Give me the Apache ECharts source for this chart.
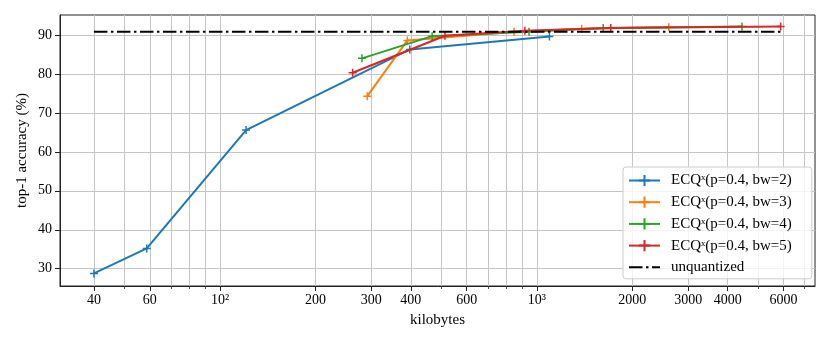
<!DOCTYPE html>
<html>
<head>
<meta charset="utf-8">
<script src="https://cdn.jsdelivr.net/npm/echarts@6/dist/echarts.min.js"></script>
<style>
html,body{margin:0;padding:0;background:#fff;}
#chart{width:830px;height:343px;}
</style>
</head>
<body>
<div id="chart"></div>
<script>
// ---- data (kilobytes, top-1 accuracy %) ----
const kbBw2 = [40, 58.7, 120.8, 397, 1095];
const accBw2 = [28.8, 35.2, 65.6, 86.3, 89.6];
const kbBw3 = [291.5, 390, 847, 1384, 2607];
const accBw3 = [74.3, 88.6, 90.8, 91.6, 92.0];
const kbBw4 = [280.5, 467, 944, 1618, 4437];
const accBw4 = [84.0, 89.7, 90.8, 91.8, 92.2];
const kbBw5 = [262, 512.7, 916, 1710, 5875];
const accBw5 = [80.3, 89.8, 91.1, 91.8, 92.2];
const kbUnq = [40, 5875];
const accUnq = [90.8, 90.8];

const seriesNames = ['ECQˣ(p=0.4, bw=2)', 'ECQˣ(p=0.4, bw=3)', 'ECQˣ(p=0.4, bw=4)', 'ECQˣ(p=0.4, bw=5)', 'unquantized'];
const colors = ['#1f77b4', '#ff7f0e', '#2ca02c', '#d62728', '#000000'];

const xMajorTicks = [40, 60, 100, 200, 300, 400, 600, 1000, 2000, 3000, 4000, 6000];
const xAllTicks = [40, 50, 60, 70, 80, 90, 100, 200, 300, 400, 500, 600, 700, 800, 900, 1000, 2000, 3000, 4000, 5000, 6000, 7000];
const xTickText = {'100': '10²', '1000': '10³'};
const yTicks = [30, 40, 50, 60, 70, 80, 90];

const FONT = 'Liberation Serif';
const lg = v => Math.log10(v);
const toPts = (kb, acc) => kb.map((k, i) => [lg(k), acc[i]]);

const X_MIN = 1.4949, X_MAX = 3.8775;
const Y_MIN = 25.56, Y_MAX = 95.13;

const plus = 'path://M5,0L5,10M0,5L10,5';

function lineSeries(idx, kb, acc) {
  return {
    name: seriesNames[idx],
    type: 'line',
    xAxisIndex: 0,
    data: toPts(kb, acc),
    symbol: plus,
    symbolSize: 8,
    showSymbol: true,
    lineStyle: {color: colors[idx], width: 2},
    itemStyle: {color: colors[idx], borderColor: colors[idx], borderWidth: 1.5},
    emphasis: {disabled: true},
    z: 3 + idx
  };
}

const chart = echarts.init(document.getElementById('chart'), null, {renderer: 'canvas'});
chart.setOption({
  animation: false,
  backgroundColor: '#ffffff',
  textStyle: {fontFamily: FONT},
  grid: {left: 60, right: 15, top: 15, bottom: 57, show: true, borderColor: '#222', borderWidth: 1, backgroundColor: 'transparent', containLabel: false},
  legend: {
    left: 623, top: 167,
    orient: 'vertical',
    align: 'left',
    itemWidth: 31, itemHeight: 14, itemGap: 6.7,
    padding: [6, 20, 4, 5],
    backgroundColor: 'rgba(255,255,255,0.8)',
    borderColor: '#cccccc', borderWidth: 1, borderRadius: 3,
    textStyle: {fontFamily: FONT, fontSize: 15, color: '#000', padding: [0, 0, 0, 6]},
    data: seriesNames.slice(0, 4).concat([{name: seriesNames[4], itemStyle: {opacity: 0}}])
  },
  xAxis: [
    {
      type: 'value', min: X_MIN, max: X_MAX, position: 'bottom',
      name: 'kilobytes', nameLocation: 'middle', nameGap: 27,
      nameTextStyle: {fontFamily: FONT, fontSize: 15, color: '#000'},
      axisLine: {show: true, lineStyle: {color: '#222', width: 1}},
      axisTick: {show: true, inside: false, length: 3, customValues: xAllTicks.map(lg), lineStyle: {color: '#222', width: 0.8}},
      axisLabel: {show: false},
      splitLine: {show: true, lineStyle: {color: '#c4c4c4', width: 1}}
    },
    {
      type: 'value', min: X_MIN, max: X_MAX, position: 'bottom', offset: 0,
      axisLine: {show: false},
      axisTick: {show: true, inside: false, length: 5, customValues: xMajorTicks.map(lg), lineStyle: {color: '#222', width: 1}},
      axisLabel: {
        show: true, margin: 7, customValues: xMajorTicks.map(lg),
        fontFamily: FONT, fontSize: 14, color: '#000',
        formatter: v => { const k = String(Math.round(Math.pow(10, v))); return xTickText[k] || k; }
      },
      splitLine: {show: false}
    }
  ],
  yAxis: {
    type: 'value', min: Y_MIN, max: Y_MAX,
    name: 'top-1 accuracy (%)', nameLocation: 'middle', nameGap: 30, nameRotate: 90,
    nameMoveOverlap: false,
    nameTextStyle: {fontFamily: FONT, fontSize: 15, color: '#000'},
    axisLine: {show: true, lineStyle: {color: '#222', width: 1}},
    axisTick: {show: true, length: 5, customValues: yTicks, lineStyle: {color: '#222', width: 1}},
    axisLabel: {show: true, margin: 8, customValues: yTicks, fontFamily: FONT, fontSize: 14, color: '#000'},
    splitLine: {show: true, lineStyle: {color: '#c4c4c4', width: 1}}
  },
  series: [
    lineSeries(0, kbBw2, accBw2),
    lineSeries(1, kbBw3, accBw3),
    lineSeries(2, kbBw4, accBw4),
    lineSeries(3, kbBw5, accBw5),
    {
      name: seriesNames[4], type: 'line', xAxisIndex: 0,
      data: toPts(kbUnq, accUnq),
      symbol: 'none', showSymbol: false,
      lineStyle: {color: '#000', width: 2, type: [13.5, 3.5, 2.5, 3.5]},
      itemStyle: {color: '#000'},
      emphasis: {disabled: true},
      z: 8
    }
  ]
});
</script>
</body>
</html>
